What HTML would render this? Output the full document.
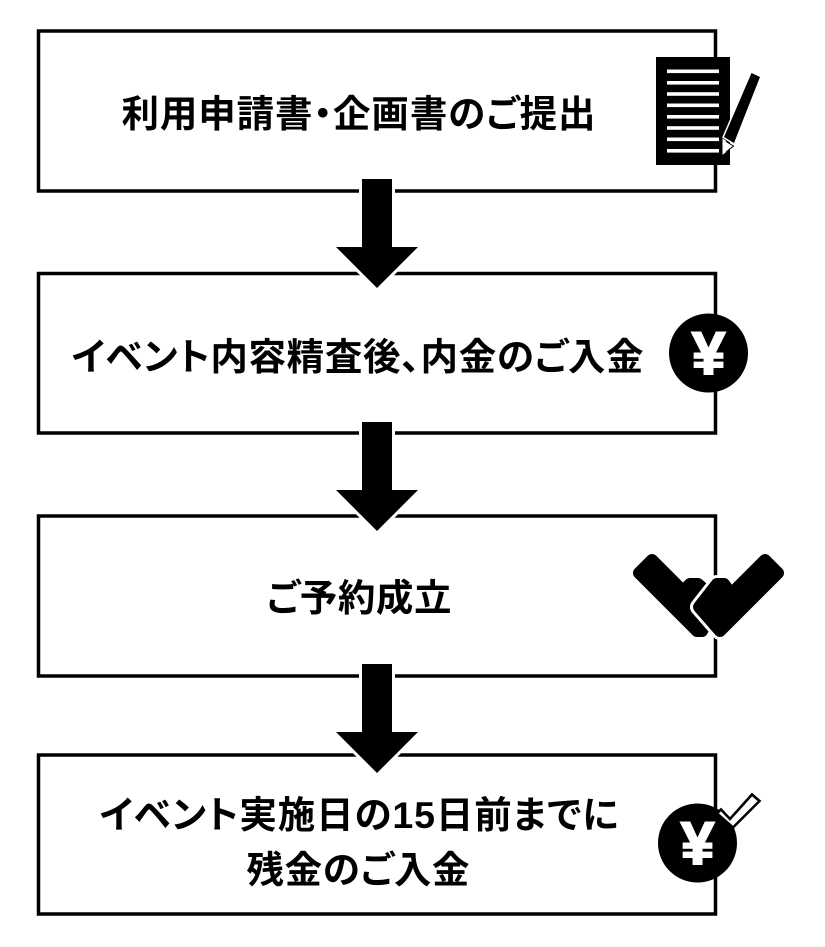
<!DOCTYPE html>
<html lang="ja">
<head>
<meta charset="utf-8">
<style>
html,body{margin:0;padding:0;background:#fff}
svg{display:block}
.t{font-family:"Liberation Sans","Noto Sans CJK JP",sans-serif;font-weight:700;font-size:37.5px;fill:#000;font-feature-settings:"palt"}
.y{font-family:"Liberation Sans",sans-serif;font-weight:700;font-size:60px;fill:#fff;stroke:#fff;stroke-width:2}
</style>
</head>
<body>
<svg width="825" height="947" viewBox="0 0 825 947" xmlns="http://www.w3.org/2000/svg">
<rect width="825" height="947" fill="#fff"/>
<g fill="none" stroke="#000" stroke-width="3.5">
<rect x="38.5" y="31" width="677" height="160"/>
<rect x="38.5" y="273.5" width="677" height="159.5"/>
<rect x="38.5" y="516" width="677" height="160"/>
<rect x="38.5" y="755" width="677" height="159"/>
</g>
<defs>
<path id="a" d="M362 179H392V247H418L377 288L336 247H362Z"/>
</defs>
<use href="#a" fill="#000" stroke="#fff" stroke-width="6"/>
<use href="#a" y="243" fill="#000" stroke="#fff" stroke-width="6"/>
<use href="#a" y="485" fill="#000" stroke="#fff" stroke-width="6"/>
<use href="#a" fill="#000"/>
<use href="#a" y="243" fill="#000"/>
<use href="#a" y="485" fill="#000"/>
<text class="t" x="121.5" y="127" textLength="474" lengthAdjust="spacing">利用申請書・企画書のご提出</text>
<text class="t" x="71.5" y="370" textLength="572" lengthAdjust="spacing">イベント内容精査後、内金のご入金</text>
<text class="t" x="266.5" y="611" textLength="185" lengthAdjust="spacing">ご予約成立</text>
<text class="t" x="99.5" y="828" textLength="519" lengthAdjust="spacing">イベント実施日の15日前までに</text>
<text class="t" x="246.5" y="883" textLength="223" lengthAdjust="spacing">残金のご入金</text>
<!-- document and pen -->
<rect x="656" y="57" width="74" height="108" fill="#000"/>
<g fill="#fff">
<rect x="667" y="69.5" width="52" height="3.6"/>
<rect x="667" y="81" width="52" height="3.6"/>
<rect x="667" y="92.2" width="52" height="3.6"/>
<rect x="667" y="103.5" width="52" height="3.6"/>
<rect x="667" y="115" width="52" height="3.6"/>
<rect x="667" y="126.2" width="52" height="3.6"/>
<rect x="667" y="137.5" width="52" height="3.6"/>
<rect x="667" y="149" width="52" height="3.6"/>
</g>
<path d="M751.500 73L760 77L734 143L724 137Z" fill="#000" stroke="#fff" stroke-width="3"/>
<path d="M751.500 73L760 77L734 143L724 137Z" fill="#000"/>
<path d="M722.500 138.500L733.500 146L722.500 155Z" fill="#fff"/>
<path d="M726 141.500L733.500 146L726 152" fill="none" stroke="#000" stroke-width="1"/>
<!-- yen 1 -->
<circle cx="708.500" cy="353" r="39.500" fill="#000"/>
<text class="y" x="708.500" y="374" text-anchor="middle">¥</text>
<!-- handshake checks -->
<path d="M639 573L652 560L683 591L690 584L698 584L707 592L708 620L702 631L697 631Z" fill="#000" stroke="#000" stroke-width="12" stroke-linejoin="round"/>
<path d="M699 607L717 584L724 584L731 594L765 560L778 573L720 631Z" fill="#000" stroke="#fff" stroke-width="18" stroke-linejoin="round"/>
<path d="M699 607L717 584L724 584L731 594L765 560L778 573L720 631Z" fill="#000" stroke="#000" stroke-width="12" stroke-linejoin="round"/>
<!-- yen 2 with check -->
<circle cx="697.500" cy="843" r="39.500" fill="#000"/>
<text class="y" x="697.500" y="864" text-anchor="middle">¥</text>
<path d="M752 794.500L759.500 801L733 827.500L717 813.500L721 809.500L730 819Z" fill="#fff" stroke="#000" stroke-width="2.600"/>
</svg>
</body>
</html>
